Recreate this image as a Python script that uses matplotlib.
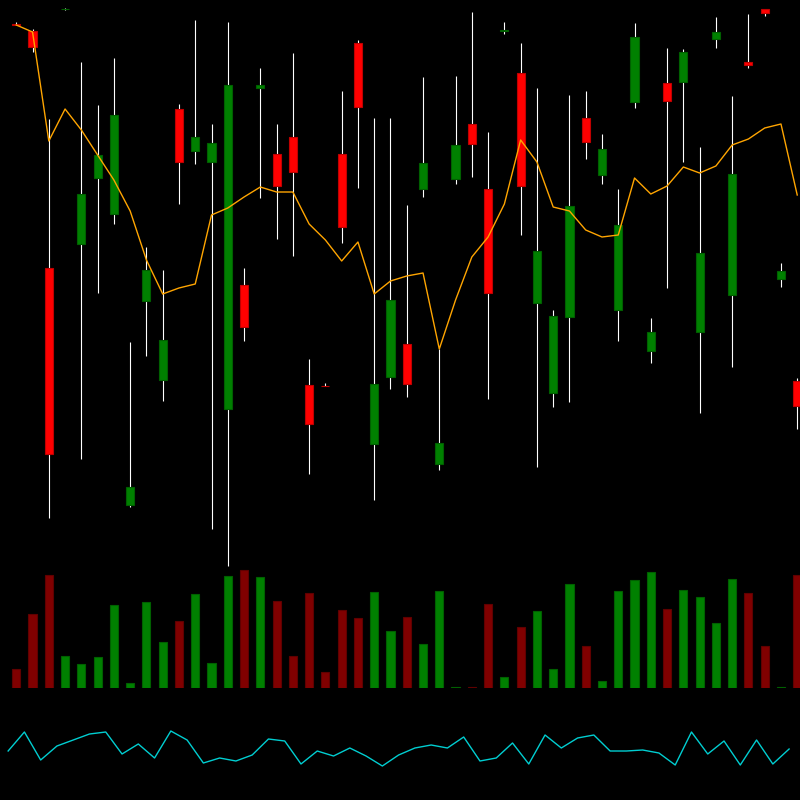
import numpy as np
import matplotlib
matplotlib.use("Agg")
import matplotlib.pyplot as plt
from matplotlib.patches import Rectangle

# candle data (price units)
opens = [57.6, 56.9, 33.2, 59.1, 35.6, 42.2, 38.6, 9.5, 29.9, 22.0,
         49.1, 44.9, 43.8, 19.1, 31.5, 51.2, 44.6, 46.3, 21.5, 21.4,
         44.6, 55.7, 15.6, 22.3, 25.6, 41.1, 13.6, 42.1, 47.6, 41.1,
         56.9, 52.7, 29.7, 20.7, 28.3, 48.2, 42.5, 29.0, 49.8, 24.9,
         51.7, 51.8, 26.8, 56.1, 30.5, 53.8, 59.1, 32.1, 21.9]
highs = [57.8, 57.1, 48.1, 59.2, 53.8, 49.5, 54.2, 25.8, 35.3, 33.0,
         49.6, 58.0, 47.6, 57.8, 33.2, 53.2, 47.6, 54.7, 24.1, 21.7,
         50.9, 56.0, 48.2, 48.2, 39.5, 52.3, 25.1, 52.4, 58.8, 46.8,
         57.8, 55.7, 51.2, 29.0, 50.5, 50.9, 46.6, 41.1, 57.7, 28.2,
         55.2, 55.1, 45.3, 58.3, 50.4, 58.6, 59.1, 33.7, 22.2]
lows = [57.5, 54.8, 8.2, 59.0, 14.1, 30.7, 37.6, 9.3, 24.4, 19.9,
        39.6, 43.6, 7.1, 3.4, 25.9, 40.2, 36.1, 34.4, 12.6, 21.4,
        35.7, 41.2, 10.0, 21.1, 20.3, 40.3, 13.0, 41.6, 42.3, 20.1,
        56.6, 36.5, 13.3, 19.3, 19.8, 44.1, 41.6, 25.9, 49.2, 23.7,
        31.2, 43.8, 18.7, 55.2, 23.3, 53.2, 58.4, 31.3, 17.1]
closes = [57.5, 55.3, 14.6, 59.1, 40.6, 44.5, 48.5, 11.3, 33.0, 26.0,
          43.8, 46.3, 45.7, 51.5, 27.3, 51.5, 41.4, 42.8, 17.6, 21.4,
          37.3, 49.3, 21.6, 30.0, 21.6, 43.7, 15.7, 45.5, 45.6, 30.7,
          57.0, 41.4, 34.9, 28.4, 39.4, 45.8, 45.1, 37.5, 56.3, 26.8,
          49.9, 54.8, 34.7, 56.8, 42.6, 53.5, 58.7, 32.9, 19.4]
# 1 = up candle, 0 = down candle
up = [0, 0, 0, 1, 1, 1, 1, 1, 1, 1,
      0, 1, 1, 1, 0, 1, 0, 0, 0, 0,
      0, 0, 1, 1, 0, 1, 1, 1, 0, 0,
      1, 0, 1, 1, 1, 0, 1, 1, 1, 1,
      0, 1, 1, 1, 1, 0, 0, 1, 0]

ma = [57.5, 56.8, 45.9, 49.1, 47.0, 44.5, 42.0, 38.9, 34.0, 30.6,
      31.2, 31.6, 38.5, 39.2, 40.3, 41.3, 40.8, 40.8, 37.6, 36.0,
      33.9, 35.8, 30.6, 31.9, 32.4, 32.7, 25.1, 30.0, 34.3, 36.3,
      39.6, 46.0, 43.8, 39.3, 38.9, 37.0, 36.3, 36.5, 42.2, 40.6,
      41.4, 43.3, 42.7, 43.4, 45.5, 46.1, 47.2, 47.6, 40.5]

volume = [1900, 7400, 11300, 3200, 2400, 3100, 8300, 500, 8600, 4600,
          6700, 9400, 2500, 11200, 11800, 11100, 8700, 3200, 9500, 1600,
          7800, 7000, 9600, 5700, 7100, 4400, 9700, 100, 100, 8400,
          1100, 6100, 7700, 1900, 10400, 4200, 700, 9700, 10800, 11600,
          7900, 9800, 9100, 6500, 10900, 9500, 4200, 100, 11300]

indicator = [29, 48, 20, 34, 40, 46, 48, 26, 36, 22,
             49, 40, 17, 22, 19, 25, 41, 39, 16, 29,
             24, 32, 24, 14, 25, 32, 35, 32, 43, 19,
             22, 37, 16, 45, 32, 42, 45, 29, 29, 30,
             27, 15, 48, 26, 39, 15, 40, 16, 31]

x = np.arange(len(opens))
xlim = (-1.0, 48.17)

fig = plt.figure(figsize=(8, 8), dpi=100, facecolor="black")

ax = fig.add_axes([0, 0.25, 1, 0.75])
axv = fig.add_axes([0, 0.14, 1, 0.16])
axi = fig.add_axes([0, 0.025, 1, 0.075])
for a in (ax, axv, axi):
    a.set_facecolor("none")
    a.set_xlim(*xlim)
    a.axis("off")
axv.set_zorder(0)
ax.set_zorder(1)

w = 0.5
for i in range(len(x)):
    ax.vlines(x[i], lows[i], highs[i], color="white", lw=0.8, zorder=1)
    lo = min(opens[i], closes[i])
    h = abs(closes[i] - opens[i])
    if up[i]:
        fc, ec = "#008000", "#006000"
    else:
        fc, ec = "#ff0000", "#c00000"
    ax.add_patch(Rectangle((x[i] - w / 2, lo), w, h, facecolor=fc,
                           edgecolor=ec, lw=0.8, zorder=2))

ax.plot(x, ma, color="#ffa500", lw=1.0, zorder=3)
ax.set_ylim(0, 60)

vcol = ["#008000" if u else "#800000" for u in up]
axv.bar(x, volume, width=w, color=vcol, edgecolor=["#006000" if u else "#600000" for u in up], lw=0.8)
axv.set_ylim(0, 12800)

axi.plot(x - 0.5, indicator, color="#00ced1", lw=1.0)
axi.set_ylim(0, 60)

fig.savefig("out.png", dpi=100, facecolor="black")
